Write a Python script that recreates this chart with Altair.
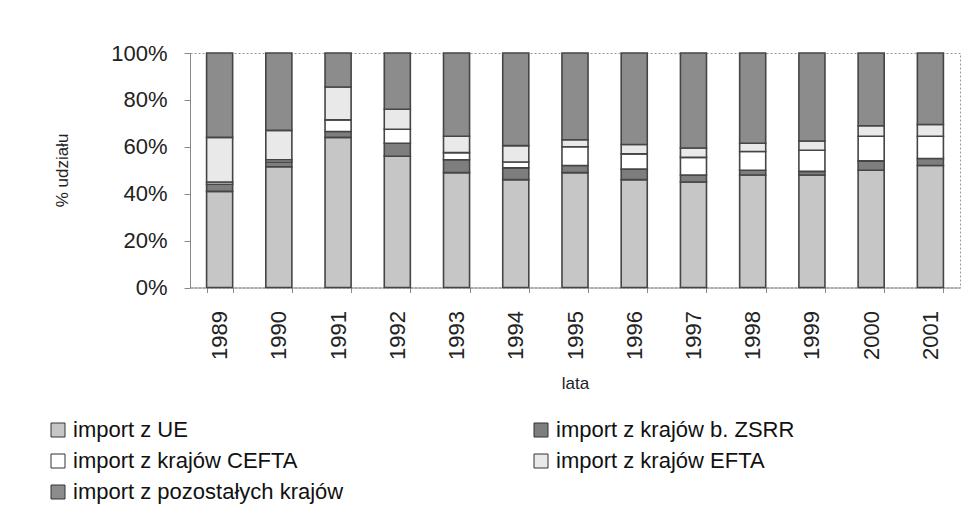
import altair as alt
import pandas as pd

years = ["1989", "1990", "1991", "1992", "1993", "1994", "1995",
         "1996", "1997", "1998", "1999", "2000", "2001"]
series = ["import z UE", "import z krajów b. ZSRR", "import z krajów CEFTA",
          "import z krajów EFTA", "import z pozostałych krajów"]
ue = [41, 51.5, 64, 56, 49, 46, 49, 46, 45, 48, 48, 50, 52]
zsrr = [3, 2, 2.5, 5.5, 5.5, 5, 3, 4.5, 3, 2, 1.5, 4, 3]
cefta = [1, 1, 5, 6, 3, 2.5, 8, 6.5, 7.5, 8, 9, 10.5, 9.5]
efta = [19, 12.5, 14, 8.5, 7, 7, 3, 4, 4, 3.5, 4, 4.5, 5]
other = [36, 33, 14.5, 24, 35.5, 39.5, 37, 39, 40.5, 38.5, 37.5, 31, 30.5]
colors = ["#c6c6c6", "#7e7e7e", "#ffffff", "#e9e9e9", "#8c8c8c"]

rows = []
for si, (name, vals) in enumerate(zip(series, [ue, zsrr, cefta, efta, other])):
    for y, v in zip(years, vals):
        rows.append({"rok": y, "seria": name, "udzial": v, "idx": si})
df = pd.DataFrame(rows)

FONT = "Liberation Sans"

chart = alt.Chart(df).mark_bar(stroke="#454545", strokeWidth=1.6).encode(
    x=alt.X("rok:N", sort=years,
            scale=alt.Scale(paddingInner=0.56, paddingOuter=0.28),
            axis=alt.Axis(title="lata", labelAngle=270, labelFontSize=22,
                          labelPadding=18, tickSize=5, tickBand="extent",
                          tickColor="#888", domainColor="#888",
                          labelColor="#222", titleFontSize=17,
                          titleFontWeight="normal", titleColor="#222",
                          titleY=88, titleBaseline="top")),
    y=alt.Y("udzial:Q", stack="normalize",
            scale=alt.Scale(domain=[0, 1]),
            axis=alt.Axis(title="% udziału", format=".0%",
                          values=[0, 0.2, 0.4, 0.6, 0.8, 1.0], grid=False,
                          labelFontSize=22, labelPadding=17, tickSize=6,
                          tickColor="#888", domainColor="#888",
                          labelColor="#222", titleFontSize=17,
                          titleFontWeight="normal", titleColor="#222",
                          titleAngle=270, titleX=-128, titleY=117,
                          titleBaseline="middle", titleAlign="center")),
    color=alt.Color("seria:N",
                    scale=alt.Scale(domain=series, range=colors),
                    legend=alt.Legend(title=None, orient="none",
                                      direction="horizontal",
                                      legendX=-143, legendY=366,
                                      columns=2, columnPadding=186,
                                      rowPadding=9, labelFontSize=22,
                                      labelColor="#111", labelLimit=500,
                                      symbolType="square", symbolSize=196,
                                      symbolStrokeColor="#333",
                                      symbolStrokeWidth=1,
                                      symbolOpacity=1, labelOffset=4)),
    order=alt.Order("idx:Q"),
).properties(
    width=770,
    height=234.5,
    autosize=alt.AutoSizeParams(type="none"),
    padding={"left": 182, "top": 45, "right": 4, "bottom": 220},
).configure(
    font=FONT,
).configure_view(
    stroke="#999", strokeDash=[2, 2], strokeWidth=1
)

chart.save("out.html", embed_options={"renderer": "svg", "actions": False})
